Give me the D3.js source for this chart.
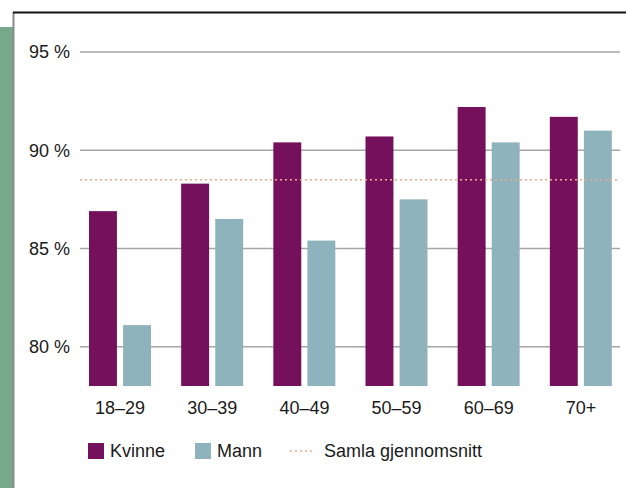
<!DOCTYPE html>
<html>
<head>
<meta charset="utf-8">
<script src="https://cdn.jsdelivr.net/npm/d3@7"></script>
<style>
  body { margin: 0; background: #fff; }
  svg { display: block; font-family: "Liberation Sans", Arial, sans-serif; }
</style>
</head>
<body>
<div id="chart"></div>
<script>
// Data
var ageGroups = ["18–29", "30–39", "40–49", "50–59", "60–69", "70+"];
var series = ["Kvinne", "Mann"];
var kvinne = [86.9, 88.3, 90.4, 90.7, 92.2, 91.7];
var mann = [81.1, 86.5, 85.4, 87.5, 90.4, 91.0];
var average = 88.5;
var yTicks = [80, 85, 90, 95];
var averageLabel = "Samla gjennomsnitt";

var width = 626, height = 488;

var colors = { Kvinne: "#74105c", Mann: "#8fb3bd" };

var svg = d3.select("#chart").append("svg")
    .attr("width", width)
    .attr("height", height);

// frame: green strip on the left and border lines
svg.append("rect")
    .attr("x", 0).attr("y", 27)
    .attr("width", 13).attr("height", height - 27)
    .attr("fill", "#76a98a");
svg.append("line")
    .attr("x1", 13.5).attr("x2", 13.5)
    .attr("y1", 12).attr("y2", height)
    .attr("stroke", "#8a8a8a").attr("stroke-width", 2);
svg.append("line")
    .attr("x1", 13).attr("x2", width)
    .attr("y1", 12.5).attr("y2", 12.5)
    .attr("stroke", "#111").attr("stroke-width", 2);

// scales
var y = d3.scaleLinear()
    .domain([78, 95])
    .range([386, 52]);

var x0 = d3.scaleBand()
    .domain(ageGroups)
    .range([74, 627]);

var x1 = d3.scaleBand()
    .domain(series)
    .range([15, 77])
    .paddingInner(0.18);

// gridlines
svg.selectAll(".grid")
    .data(yTicks)
    .join("line")
    .attr("class", "grid")
    .attr("x1", 80).attr("x2", 620)
    .attr("y1", d => y(d)).attr("y2", d => y(d))
    .attr("stroke", "#a6a6a6")
    .attr("stroke-width", 1.5);

// y labels
svg.selectAll(".ylab")
    .data(yTicks)
    .join("text")
    .attr("class", "ylab")
    .attr("x", 70)
    .attr("y", d => y(d))
    .attr("dy", "0.35em")
    .attr("text-anchor", "end")
    .attr("font-size", 18)
    .attr("fill", "#1a1a1a")
    .text(d => d + " %");

// bars
var rows = ageGroups.map((g, i) => ({ group: g, Kvinne: kvinne[i], Mann: mann[i] }));

var groups = svg.selectAll(".group")
    .data(rows)
    .join("g")
    .attr("class", "group")
    .attr("transform", d => "translate(" + x0(d.group) + ",0)");

groups.selectAll("rect")
    .data(d => series.map(s => ({ key: s, value: d[s] })))
    .join("rect")
    .attr("x", d => x1(d.key))
    .attr("y", d => y(d.value))
    .attr("width", x1.bandwidth())
    .attr("height", d => y(78) - y(d.value))
    .attr("fill", d => colors[d.key]);

// average line
svg.append("line")
    .attr("x1", 80).attr("x2", 620)
    .attr("y1", y(average)).attr("y2", y(average))
    .attr("stroke", "#e8a987")
    .attr("stroke-width", 1.5)
    .attr("stroke-dasharray", "2,3");

// x labels
svg.selectAll(".xlab")
    .data(ageGroups)
    .join("text")
    .attr("class", "xlab")
    .attr("x", d => x0(d) + x0.bandwidth() / 2)
    .attr("y", 414)
    .attr("text-anchor", "middle")
    .attr("font-size", 18)
    .attr("fill", "#1a1a1a")
    .text(d => d);

// legend
var legend = svg.append("g").attr("transform", "translate(88,443)");
var legendItems = [
    { label: "Kvinne", x: 0, type: "rect" },
    { label: "Mann", x: 107, type: "rect" },
    { label: averageLabel, x: 202, type: "line" }
];
legendItems.forEach(function (d) {
    var g = legend.append("g").attr("transform", "translate(" + d.x + ",0)");
    if (d.type === "rect") {
        g.append("rect")
            .attr("width", 16).attr("height", 16)
            .attr("fill", colors[d.label]);
        g.append("text")
            .attr("x", 22).attr("y", 8)
            .attr("dy", "0.35em")
            .attr("font-size", 18)
            .attr("fill", "#1a1a1a")
            .text(d.label);
    } else {
        g.append("line")
            .attr("x1", 0).attr("x2", 25)
            .attr("y1", 8).attr("y2", 8)
            .attr("stroke", "#e8a987")
            .attr("stroke-width", 1.5)
            .attr("stroke-dasharray", "2,3");
        g.append("text")
            .attr("x", 34).attr("y", 8)
            .attr("dy", "0.35em")
            .attr("font-size", 18)
            .attr("fill", "#1a1a1a")
            .text(d.label);
    }
});
</script>
</body>
</html>
